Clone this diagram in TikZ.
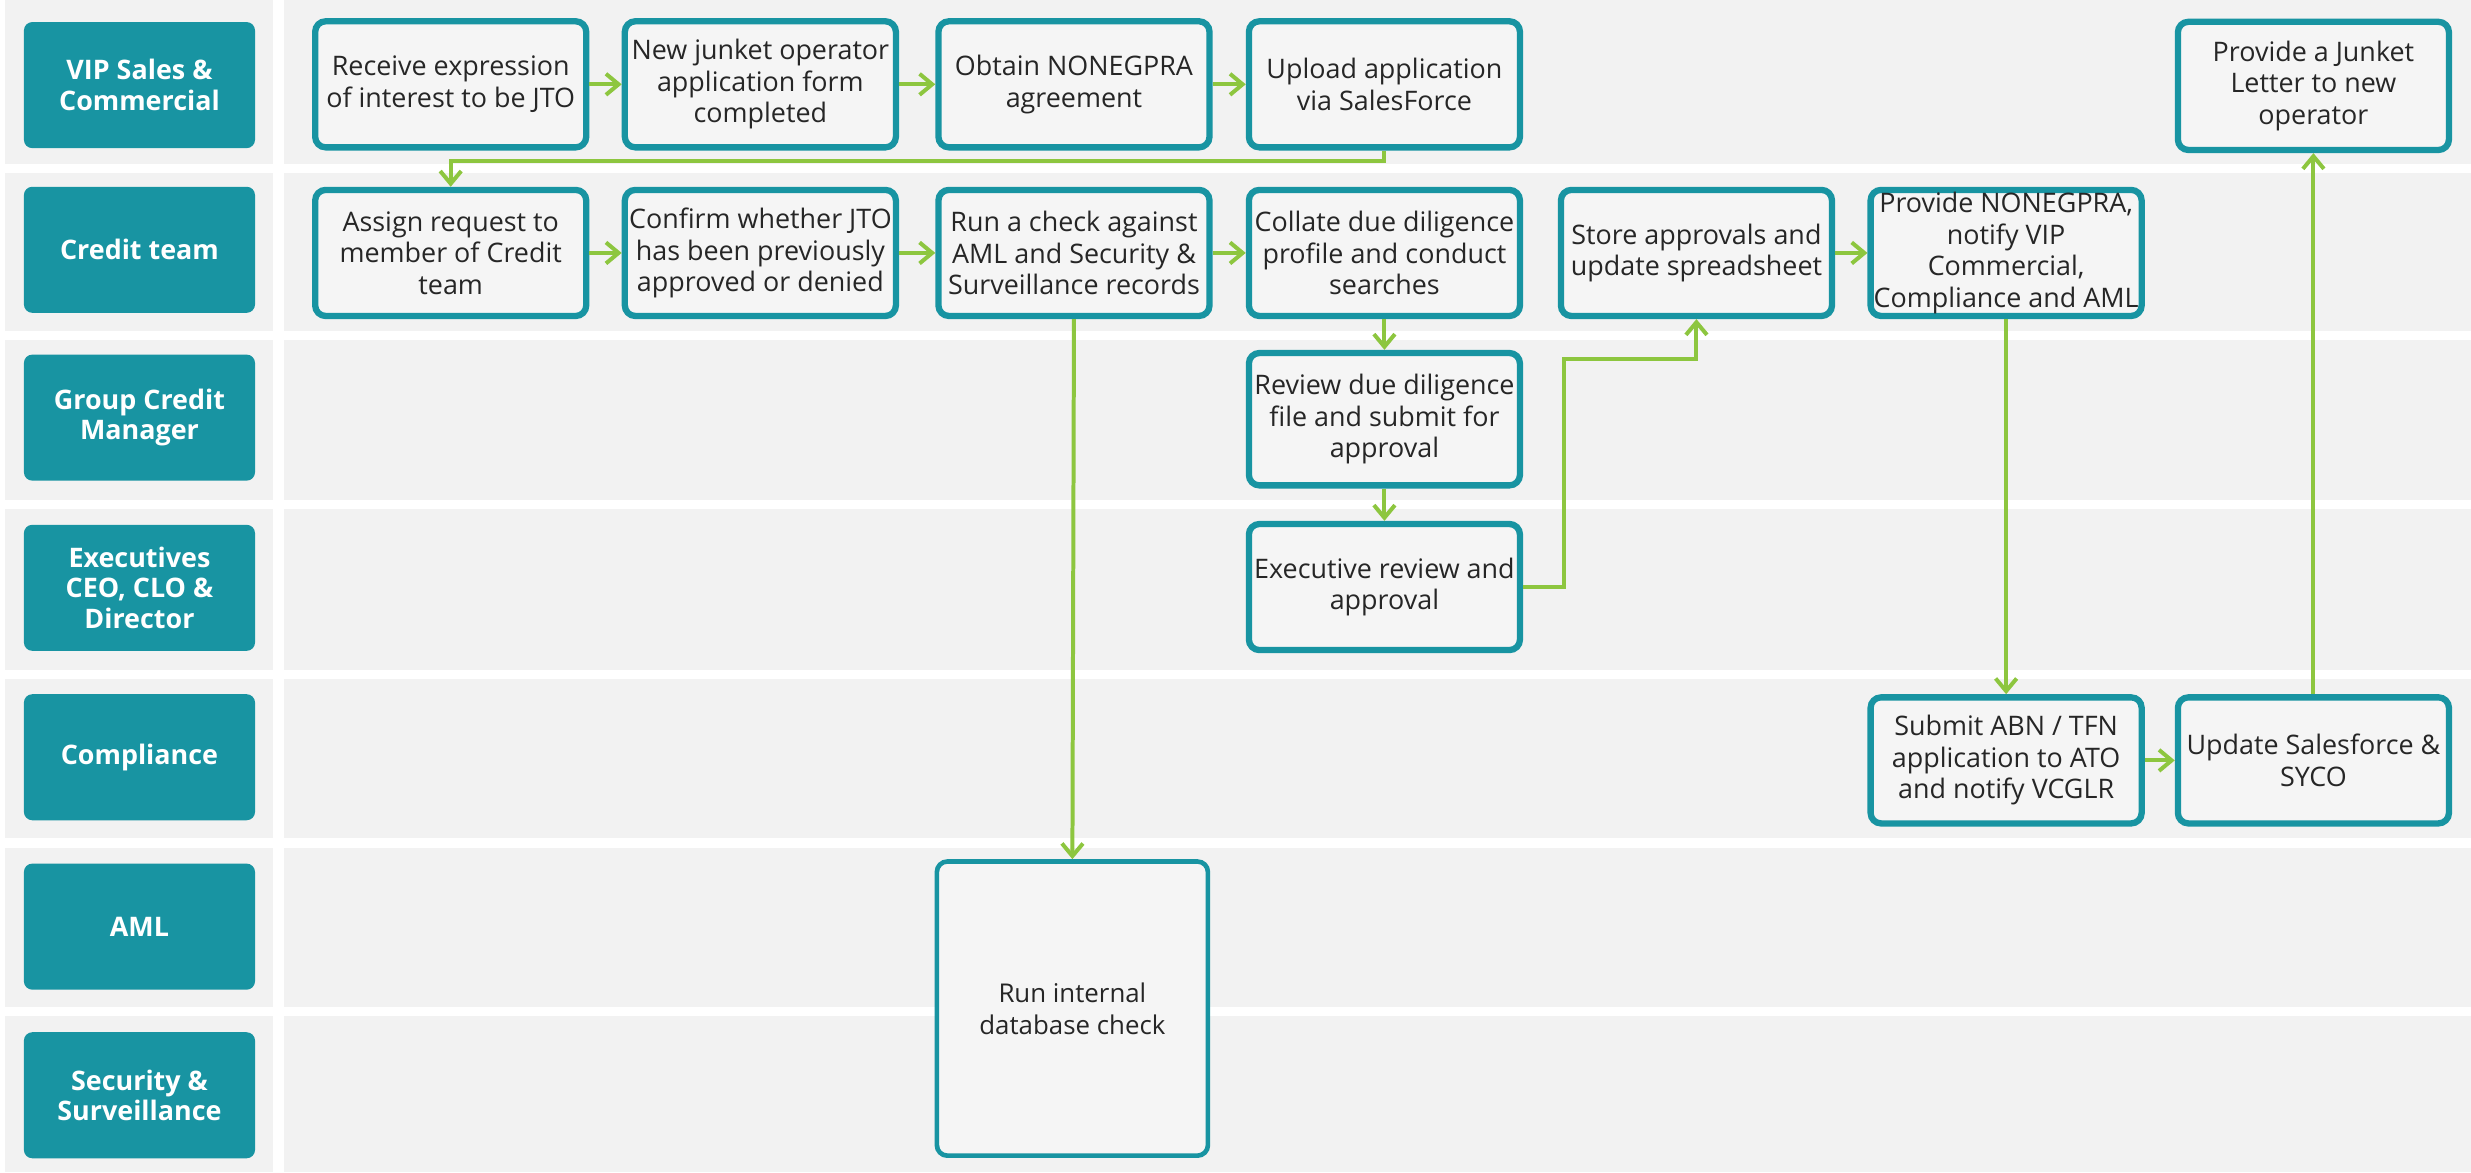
\documentclass[tikz,border=0pt]{standalone}
\usepackage{fontspec}
\setmainfont{Open Sans}
\usetikzlibrary{arrows.meta}
\definecolor{laneteal}{RGB}{24,148,162}
\definecolor{flowgreen}{RGB}{141,198,63}
\definecolor{lanegray}{RGB}{242,242,242}
\definecolor{boxgray}{RGB}{245,245,245}
\begin{document}
\begin{tikzpicture}[x=0.75pt,y=0.75pt,yscale=-1,
  lane/.style={fill=laneteal,rounded corners=4pt,minimum width=110pt,minimum height=60pt,
    inner sep=2pt,align=center,text=white,font=\fontsize{12.8}{14.5}\selectfont\bfseries},
  task/.style={draw=laneteal,line width=3pt,fill=boxgray,rounded corners=5pt,
    minimum width=129pt,minimum height=60pt,inner sep=1pt,align=center,
    text=black!85,font=\fontsize{12.8}{15}\selectfont},
  flow/.style={draw=flowgreen,line width=1.9pt,-{Straight Barb[length=6pt,width=10pt]}}]
\useasboundingbox (0,0) rectangle (1568,744);

%Lanes
\foreach \t/\b in {0/104,110/210,216/317,323/425,431/532,538/639,645/744}{
  \fill[lanegray] (3,\t) rectangle (173,\b);
  \fill[lanegray] (180,\t) rectangle (1568,\b);
}

%Lane names
\node[lane] (vip) at (88.5,54) {VIP Sales \&\\Commercial};
\node[lane] (credit) at (88.5,158.5) {Credit team};
\node[lane] (gcm) at (88.5,265) {Group Credit\\Manager};
\node[lane] (exec) at (88.5,373) {Executives\\CEO, CLO \&\\Director};
\node[lane] (compl) at (88.5,480.5) {Compliance};
\node[lane] (aml) at (88.5,588) {AML};
\node[lane] (secur) at (88.5,695) {Security \&\\Surveillance};

%Steps: VIP Sales & Commercial
\node[task] (receive) at (286,53.5) {Receive expression\\of interest to be JTO};
\node[task] (newform) at (482.5,53.5) {New junket operator\\application form\\completed};
\node[task] (obtain) at (681.5,53.5) {Obtain NONEGPRA\\agreement};
\node[task] (upload) at (878.5,53.5) {Upload application\\via SalesForce};
\node[task,minimum height=61pt] (letter) at (1468,54.5) {Provide a Junket\\Letter to new\\operator};

%Steps: Credit team
\node[task] (assign) at (286,160.5) {Assign request to\\member of Credit\\team};
\node[task] (confirm) at (482.5,160.5) {Confirm whether JTO\\has been previously\\approved or denied};
\node[task] (runcheck) at (681.5,160.5) {Run a check against\\AML and Security \&\\Surveillance records};
\node[task] (collate) at (878.5,160.5) {Collate due diligence\\profile and conduct\\searches};
\node[task] (store) at (1076.5,160.5) {Store approvals and\\update spreadsheet};
\node[task] (notify) at (1273,160.5) {Provide NONEGPRA,\\notify VIP\\Commercial,\\Compliance and AML};

%Steps: Group Credit Manager, Executives
\node[task,minimum height=63pt] (review) at (878.5,266) {Review due diligence\\file and submit for\\approval};
\node[task] (approve) at (878.5,372.5) {Executive review and\\approval};

%Steps: Compliance
\node[task] (submit) at (1273,482.5) {Submit ABN / TFN\\application to ATO\\and notify VCGLR};
\node[task] (update) at (1468,482.5) {Update Salesforce \&\\SYCO};

%Steps: AML, Security & Surveillance
\node[task,line width=2.2pt,minimum height=140pt,font=\fontsize{12.3}{15}\selectfont] (internal) at (680.5,640) {Run internal\\database check};

%Arrows
\draw[flow] (receive) -- (newform);
\draw[flow] (newform) -- (obtain);
\draw[flow] (obtain) -- (upload);
\draw[flow] (upload.south) -- ++(0,6.5) -| (assign.north);
\draw[flow] (assign) -- (confirm);
\draw[flow] (confirm) -- (runcheck);
\draw[flow] (runcheck) -- (collate);
\draw[flow] (runcheck.south) -- (internal.north);
\draw[flow] (collate) -- (review);
\draw[flow] (review) -- (approve);
\draw[flow] (approve.east) -| ++(26,-145) -| (store.south);
\draw[flow] (store) -- (notify);
\draw[flow] (notify) -- (submit);
\draw[flow] (submit) -- (update);
\draw[flow] (update) -- (letter);

\end{tikzpicture}
\end{document}
